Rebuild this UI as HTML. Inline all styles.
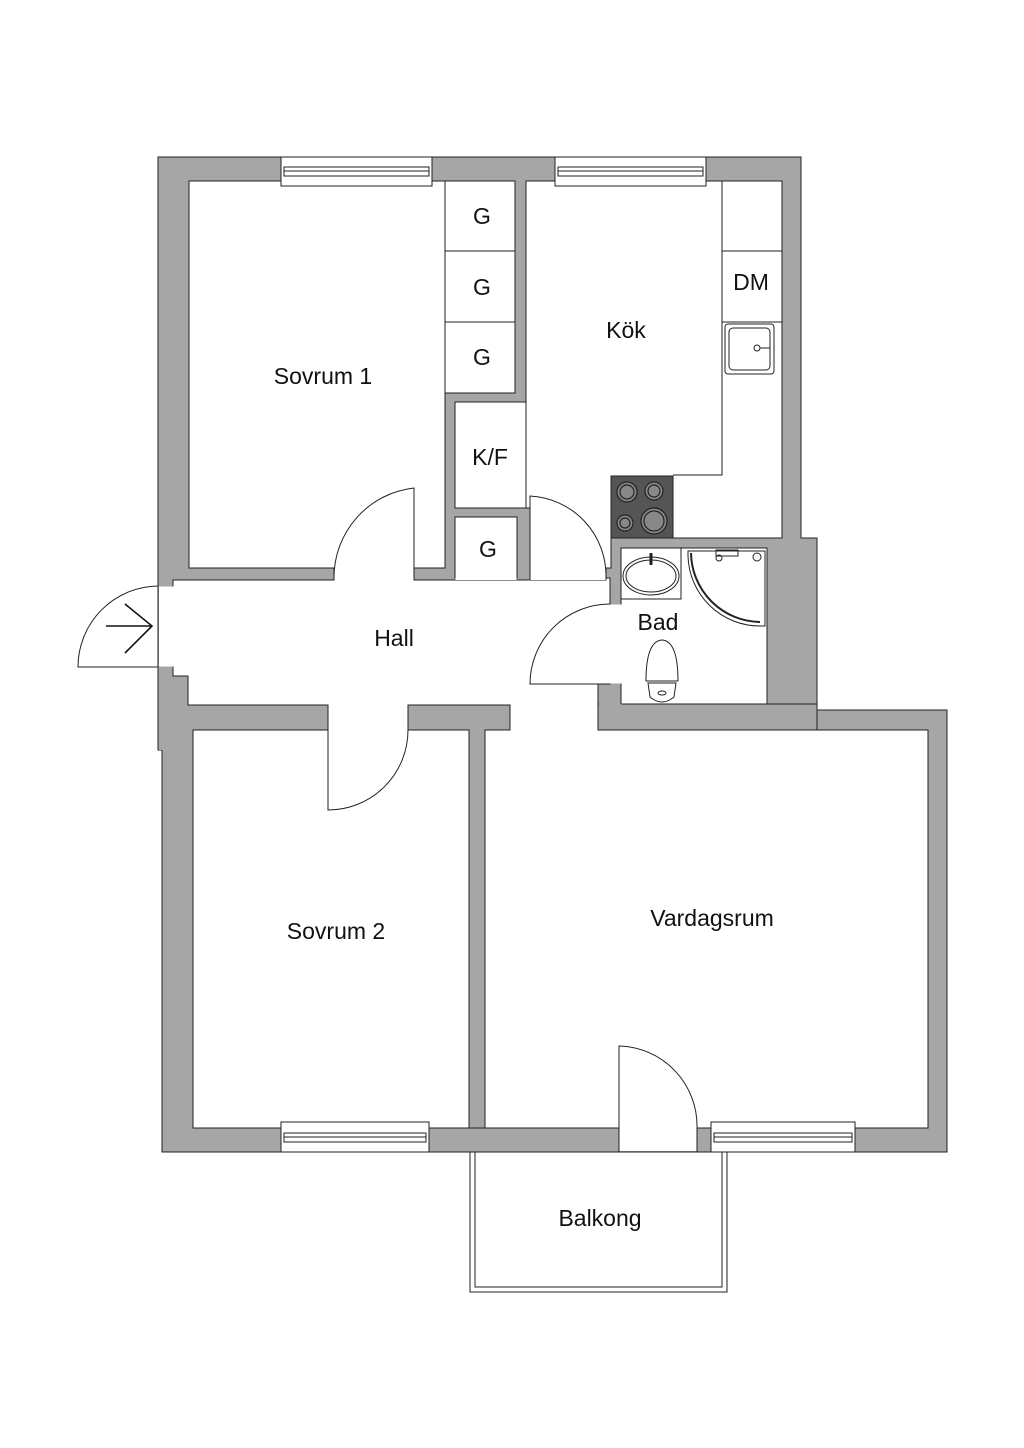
<!DOCTYPE html>
<html><head><meta charset="utf-8"><style>
html,body{margin:0;padding:0;background:#fff}
svg{display:block}
text{font-family:"Liberation Sans",sans-serif;font-size:23px;fill:#111;text-anchor:middle}
</style></head><body>
<svg width="1024" height="1448" viewBox="0 0 1024 1448" xmlns="http://www.w3.org/2000/svg">
<rect width="1024" height="1448" fill="#fff"/>
<polygon points="158,157 801,157 801,538 817,538 817,710 947,710 947,1152 162,1152 162,750 158,750" fill="#a6a6a6" stroke="#222" stroke-width="1"/>
<g fill="#fff" stroke="#222" stroke-width="1">
<rect x="189" y="181" width="256" height="387"/>
<rect x="445" y="181" width="70" height="70"/>
<rect x="445" y="251" width="70" height="71"/>
<rect x="445" y="322" width="70" height="71"/>
<rect x="455" y="402" width="71" height="106"/>
<rect x="455" y="517" width="62" height="61"/>
<polygon points="526,181 782,181 782,538 611,538 611,568 606,568 606,578 530,578 530,508 526,508"/>
<polygon points="173,586 173,580 334,580 334,568 414,568 414,580 606,580 606,578 610,578 610,684 598,684 598,705 188,705 188,676 173,676 173,667"/>
<rect x="621" y="548" width="146" height="156"/>
</g>
<g fill="#fff">
<rect x="159" y="586.5" width="16" height="80"/>
<rect x="334.5" y="567" width="79" height="14"/>
<rect x="455.5" y="577" width="61" height="3"/>
<rect x="530.5" y="537" width="75" height="43"/>
</g>
<polygon points="159,705 328,705 328,730 193,730 193,750 159,750" fill="#a6a6a6"/>
<g stroke="#222" stroke-width="1" fill="none">
<polyline points="188,676 188,705 328,705 328,730"/>
</g>
<g fill="#a6a6a6" stroke="#222" stroke-width="1">
<polygon points="408,705 510,705 510,730 485,730 485,1128 469,1128 469,730 408,730"/>
<rect x="598" y="704" width="219" height="26"/>
</g>
<rect x="599" y="685" width="22" height="22" fill="#a6a6a6"/>
<polyline points="598,704 598,684 610,684" fill="none" stroke="#222"/>
<line x1="621" y1="684" x2="621" y2="704" stroke="#222"/>
<g fill="#fff" stroke="#222" stroke-width="1">
<rect x="193" y="730" width="276" height="398"/>
<rect x="485" y="730" width="443" height="398"/>
</g>
<g fill="#fff">
<rect x="619.5" y="1127" width="77" height="24"/>
<rect x="328.5" y="704" width="79" height="27"/>
<rect x="510.5" y="704" width="87" height="27"/>
<rect x="609" y="604.5" width="13" height="79"/>
</g>
<g fill="none" stroke="#222" stroke-width="1">
<polyline points="722,181 722,475 673,475"/>
<line x1="722" y1="251" x2="782" y2="251"/>
<line x1="722" y1="322" x2="782" y2="322"/>
<rect x="725" y="324" width="49" height="50" rx="3"/>
<rect x="729" y="328" width="41" height="42" rx="4"/>
<circle cx="757" cy="348" r="3"/>
<line x1="760" y1="348" x2="770" y2="348"/>
</g>
<rect x="611" y="476" width="62" height="62" fill="#555" stroke="#222"/>
<g fill="#888" stroke="#222" stroke-width="1.2">
<circle cx="627" cy="492" r="10"/><circle cx="627" cy="492" r="7"/>
<circle cx="654" cy="491" r="9"/><circle cx="654" cy="491" r="6"/>
<circle cx="625" cy="523" r="8"/><circle cx="625" cy="523" r="5"/>
<circle cx="654" cy="521" r="13"/><circle cx="654" cy="521" r="10"/>
</g>
<g fill="none" stroke="#222" stroke-width="1">
<rect x="621" y="548" width="60" height="51"/>
<ellipse cx="651" cy="576" rx="28" ry="19"/>
<ellipse cx="651" cy="576" rx="25" ry="16"/>
<line x1="651" y1="553" x2="651" y2="565" stroke-width="3"/>
<path d="M688,551 L765,551 L765,626 L760,626 A72,72 0 0 1 688,556 Z"/>
<path d="M691,553 A70,70 0 0 0 760,622" stroke-width="2"/>
<circle cx="757" cy="557" r="4"/>
<rect x="716" y="550" width="22" height="6"/>
<circle cx="719" cy="558" r="3"/>
<path d="M646,681 Q646,641 662,640 Q678,641 678,681 Z"/>
<path d="M648,683 L676,683 L674,697 Q662,707 650,697 Z"/>
<ellipse cx="662" cy="693" rx="4" ry="2"/>
</g>
<g fill="#fff" stroke="#222" stroke-width="1">
<rect x="281" y="157" width="151" height="29"/>
<rect x="284" y="167" width="145" height="9"/>
<line x1="284" y1="171" x2="429" y2="171"/>
<rect x="555" y="157" width="151" height="29"/>
<rect x="558" y="167" width="145" height="9"/>
<line x1="558" y1="171" x2="703" y2="171"/>
<rect x="281" y="1122" width="148" height="30"/>
<rect x="284" y="1133" width="142" height="9"/>
<line x1="284" y1="1137" x2="426" y2="1137"/>
<rect x="711" y="1122" width="144" height="30"/>
<rect x="714" y="1133" width="138" height="9"/>
<line x1="714" y1="1137" x2="852" y2="1137"/>
</g>
<g fill="none" stroke="#222" stroke-width="1">
<polyline points="470,1152 470,1292 727,1292 727,1152"/>
<polyline points="475,1152 475,1287 722,1287 722,1152"/>
</g>
<g fill="none" stroke="#222" stroke-width="1">
<line x1="158" y1="586" x2="158" y2="667"/>
<path d="M158,586 A81,81 0 0 0 78,667 L158,667"/>
<path d="M414,580 L414,488 A90,90 0 0 0 334,578"/>
<path d="M530,580 L530,496 A80,80 0 0 1 606,578"/>
<path d="M610,604 A80,80 0 0 0 530,684 L610,684"/>
<path d="M328,730 L328,810 A80,80 0 0 0 408,730"/>
<path d="M619,1152 L619,1046 A80,80 0 0 1 697,1128 L697,1152"/>
</g>
<g fill="none" stroke="#111" stroke-width="1.6">
<line x1="106" y1="626" x2="152" y2="626"/>
<polyline points="125,604 152,626 125,653"/>
</g>
<text x="323" y="384">Sovrum 1</text>
<text x="626" y="338">Kök</text>
<text x="751" y="290">DM</text>
<text x="482" y="224">G</text>
<text x="482" y="295">G</text>
<text x="482" y="365">G</text>
<text x="490" y="465">K/F</text>
<text x="488" y="557">G</text>
<text x="394" y="646">Hall</text>
<text x="658" y="630">Bad</text>
<text x="336" y="939">Sovrum 2</text>
<text x="712" y="926">Vardagsrum</text>
<text x="600" y="1226">Balkong</text>
</svg>
</body></html>
